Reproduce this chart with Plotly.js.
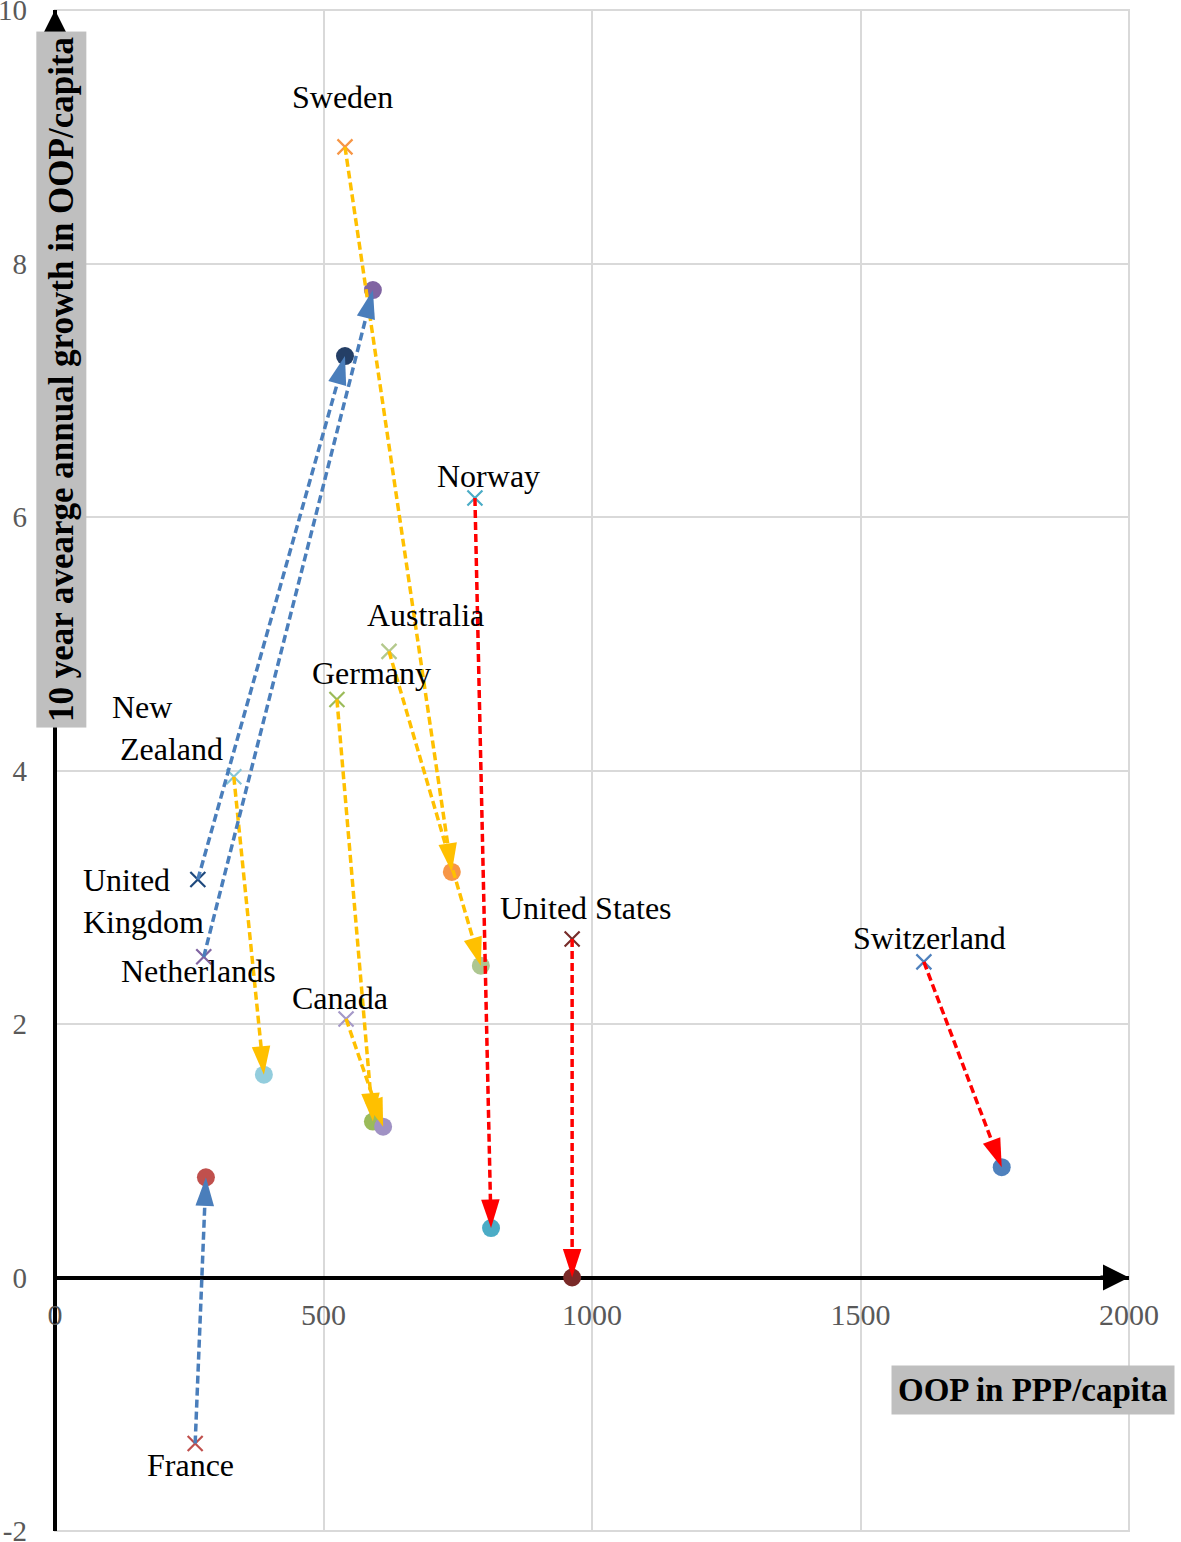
<!DOCTYPE html>
<html>
<head>
<meta charset="utf-8">
<script src="https://cdn.plot.ly/plotly-3.0.1.min.js"></script>
<style>html,body{margin:0;padding:0;background:#fff;}#chart{width:1181px;height:1542px;}</style>
</head>
<body>
<div id="chart"></div>
<script>
// ---- data ----
const countries = ['Sweden','Norway','Australia','Germany','New Zealand','United Kingdom','Netherlands','Canada','United States','Switzerland','France'];
const labelText = ['Sweden','Norway','Australia','Germany','New<br>\u00a0Zealand','United<br>Kingdom','Netherlands','Canada','United States','Switzerland','France'];
const startOOP    = [540, 782, 622, 525, 333, 266, 277, 542, 963, 1618, 261];
const startGrowth = [8.92, 6.15, 4.94, 4.56, 3.95, 3.14, 2.53, 2.04, 2.67, 2.49, -1.31];
const endOOP      = [739, 812, 793, 592, 389, 540, 592, 611, 963, 1763, 281];
const endGrowth   = [3.20, 0.39, 2.46, 1.23, 1.60, 7.27, 7.79, 1.19, 0.00, 0.87, 0.79];
const xTicks = [0, 500, 1000, 1500, 2000];
const yTicks = [-2, 0, 2, 4, 6, 8, 10];

// ---- styles ----
const startColors = ['#f79646','#4bacc6','#b4c98c','#9bbb59','#86c6d8','#1f497d','#8064a2','#a599c8','#772c2a','#4f81bd','#c0504d'];
const endColors   = ['#f79646','#4bacc6','#adc690','#9bbb59','#93cddd','#243f66','#8064a2','#a092c4','#7a2a28','#4f81bd','#c0504d'];
const arrowColors = ['#ffc000','#ff0000','#ffc000','#ffc000','#ffc000','#4a7ebb','#4a7ebb','#ffc000','#ff0000','#ff0000','#4a7ebb'];
const labelShift  = [[-2,50],[14,22],[36,36],[35,27],[-66,49],[-54,-21],[-5,-14],[-6,21],[14,31],[6,24],[-5,-21]];
const labelAlign  = ['center','center','center','center','left','left','center','center','center','center','center'];

const serif = 'Liberation Serif, Times New Roman, serif';
const traces = [];

// end points (circles)
traces.push({
  type:'scatter', mode:'markers', x:endOOP, y:endGrowth, hoverinfo:'skip',
  marker:{symbol:'circle', size:18, color:endColors}, showlegend:false
});
// start points (x markers)
traces.push({
  type:'scatter', mode:'markers', x:startOOP, y:startGrowth, hoverinfo:'skip',
  marker:{symbol:'x-thin-open', size:15, color:startColors, line:{color:startColors, width:2.2}}, showlegend:false
});
// arrows
countries.forEach((c,i)=>{
  traces.push({
    type:'scatter', mode:'lines+markers', name:c, showlegend:false, hoverinfo:'skip',
    x:[startOOP[i], endOOP[i]], y:[startGrowth[i], endGrowth[i]],
    line:{color:arrowColors[i], width:3.5, dash:'8px,4px'},
    marker:{symbol:'arrow', size:30, angleref:'previous', opacity:[0,1], color:arrowColors[i]}
  });
});

const annotations = [];
countries.forEach((c,i)=>{
  annotations.push({
    x:startOOP[i], y:startGrowth[i], xref:'x', yref:'y', showarrow:false,
    text:labelText[i], align:labelAlign[i],
    xshift:labelShift[i][0], yshift:labelShift[i][1],
    font:{family:serif, size:32, color:'#000'}
  });
});
// axis arrowheads
annotations.push({x:2000, y:0, xref:'x', yref:'y', ax:-30, ay:0, showarrow:true, arrowhead:2, arrowsize:1.3, arrowwidth:4, arrowcolor:'#000', text:''});
annotations.push({x:0, y:10, xref:'x', yref:'y', ax:0, ay:30, showarrow:true, arrowhead:2, arrowsize:1.3, arrowwidth:4, arrowcolor:'#000', text:''});
// axis titles
annotations.push({
  xref:'paper', yref:'paper', x:0.006, y:0.757, xanchor:'center', yanchor:'middle', showarrow:false,
  text:'10 year avearge annual growth in OOP/capita', textangle:-90,
  bgcolor:'#bfbfbf', borderpad:5,
  font:{family:serif, size:35, color:'#000', weight:700}
});
annotations.push({
  xref:'paper', yref:'paper', x:0.9106, y:0.0927, xanchor:'center', yanchor:'middle', showarrow:false,
  text:'OOP in PPP/capita', bgcolor:'#bfbfbf', borderpad:6,
  font:{family:serif, size:33, color:'#000', weight:700}
});

const layout = {
  width:1181, height:1542,
  margin:{l:55, r:52, t:10, b:11},
  paper_bgcolor:'#fff', plot_bgcolor:'#fff',
  showlegend:false,
  xaxis:{
    range:[0,2000], tickvals:xTicks, ticktext:xTicks.map(String),
    showgrid:true, gridcolor:'#d9d9d9', gridwidth:2,
    zeroline:true, zerolinecolor:'#000', zerolinewidth:4,
    showline:false, anchor:'free', position:2/12,
    ticks:'', ticklabelstandoff:16, ticklabeloverflow:'allow',
    tickfont:{family:serif, size:30, color:'#595959'}
  },
  yaxis:{
    range:[-2,10], tickvals:yTicks, ticktext:yTicks.map(String),
    showgrid:true, gridcolor:'#d9d9d9', gridwidth:2,
    zeroline:true, zerolinecolor:'#000', zerolinewidth:4,
    showline:false, ticks:'', ticklabelstandoff:27, ticklabeloverflow:'allow',
    tickfont:{family:serif, size:29, color:'#595959'}
  },
  shapes:[{type:'rect', xref:'paper', yref:'paper', x0:0, y0:0, x1:1, y1:1, line:{color:'#d9d9d9', width:2}, layer:'below'}],
  annotations:annotations
};

Plotly.newPlot('chart', traces, layout, {staticPlot:true});
</script>
</body>
</html>
